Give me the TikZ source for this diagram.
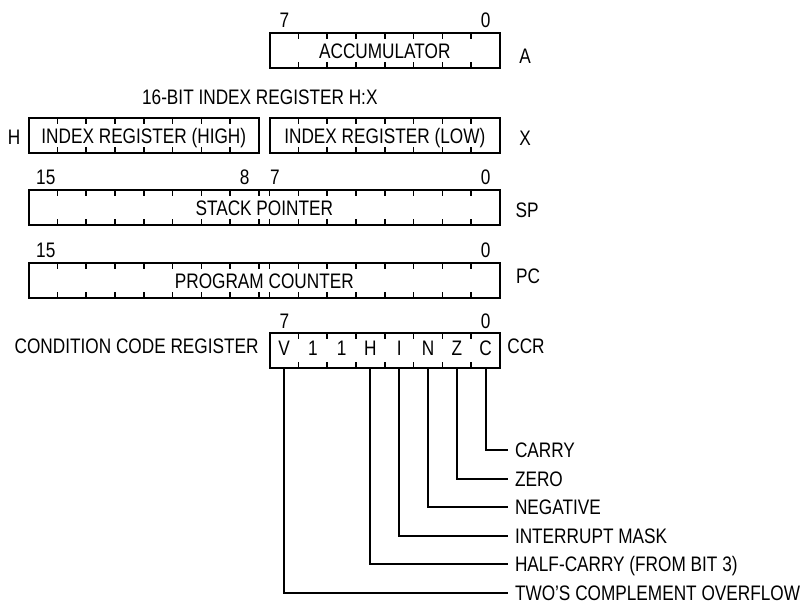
\documentclass[tikz,border=0pt]{standalone}
\usepackage{fontspec}
\setmainfont{Liberation Sans}[FakeStretch=0.82]
\begin{document}
\begin{tikzpicture}[x=0.5pt, y=-0.5pt, line width=1pt,
    lbl/.style={inner sep=0pt, text height=7.5pt, text depth=0pt,
                font=\fontsize{10.5}{12}\selectfont},
    tick/.style={line width=0.8pt}]
    \useasboundingbox (0,0) rectangle (805,602);

    % register outlines
    \draw (269.6,33) rectangle (500,68);
    \draw (28.6,118) rectangle (258.9,153);
    \draw (269.6,118) rectangle (500,153);
    \draw (28.6,190) rectangle (500,225);
    \draw (28.6,263) rectangle (500,298);
    \draw (269.6,333) rectangle (500,368);

    % bit ticks, 8-bit halves
    \foreach \x/\y/\a/\b in {269.6/33/1/7, 28.6/118/1/7, 269.6/118/1/7,
                             28.6/190/1/8, 269.6/190/0/7,
                             28.6/263/1/8, 269.6/263/0/7, 269.6/333/1/7}
        \foreach \i in {\a,...,\b} {
            \draw[tick] (\x+\i*28.8,\y) -- ++(0,6);
            \draw[tick] (\x+\i*28.8,\y+35) -- ++(0,-6);
        }

    % accumulator
    \node[lbl] (accA7) at (284.4,20) {7};
    \node[lbl] (accA0) at (485.6,20) {0};
    \node[lbl] (accA) at (384.8,50.5) {ACCUMULATOR};
    \node[lbl] (nameA) at (525,56) {A};

    % index register
    \node[lbl] (hxtitle) at (259.8,97) {16-BIT INDEX REGISTER H:X};
    \node[lbl] (nameH) at (14,136.5) {H};
    \node[lbl] (idxH) at (143.8,135.5) {INDEX REGISTER (HIGH)};
    \node[lbl] (idxX) at (384.8,135.5) {INDEX REGISTER (LOW)};
    \node[lbl] (nameX) at (525,138) {X};

    % stack pointer
    \node[lbl] (sp15) at (45.8,177) {15};
    \node[lbl] (sp8) at (244.6,177) {8};
    \node[lbl] (sp7) at (275,177) {7};
    \node[lbl] (sp0) at (485.7,177) {0};
    \node[lbl] (spreg) at (264.3,207.5) {STACK POINTER};
    \node[lbl] (nameSP) at (527,210) {SP};

    % program counter
    \node[lbl] (pc15) at (45.8,250) {15};
    \node[lbl] (pc0) at (485.7,250) {0};
    \node[lbl] (pcreg) at (264.3,280.5) {PROGRAM COUNTER};
    \node[lbl] (namePC) at (528,276) {PC};

    % condition code register
    \node[lbl] (ccr7) at (284.4,321) {7};
    \node[lbl] (ccr0) at (485.6,321) {0};
    \node[lbl, anchor=east] (ccrtitle) at (259.6,346) {CONDITION CODE REGISTER};
    \node[lbl] (nameCCR) at (526,346) {CCR};
    \foreach \b [count=\i] in {V,1,1,H,I,N,Z,C} {
        \node[lbl] (bit\i) at (255.2+\i*28.8,348) {\b};
        \coordinate (bot\i) at (255.2+\i*28.8,368);
    }

    % flag descriptions
    \foreach \i/\y/\t in {8/450/CARRY, 7/478.5/ZERO, 6/507/NEGATIVE,
                          5/535.5/INTERRUPT MASK, 4/564/{HALF-CARRY (FROM BIT 3)},
                          1/593/TWO’S COMPLEMENT OVERFLOW} {
        \node[lbl, anchor=west, inner xsep=3pt] (flag\i) at (508,\y) {\t};
        \draw (bot\i) |- (flag\i.west);
    }
\end{tikzpicture}
\end{document}
